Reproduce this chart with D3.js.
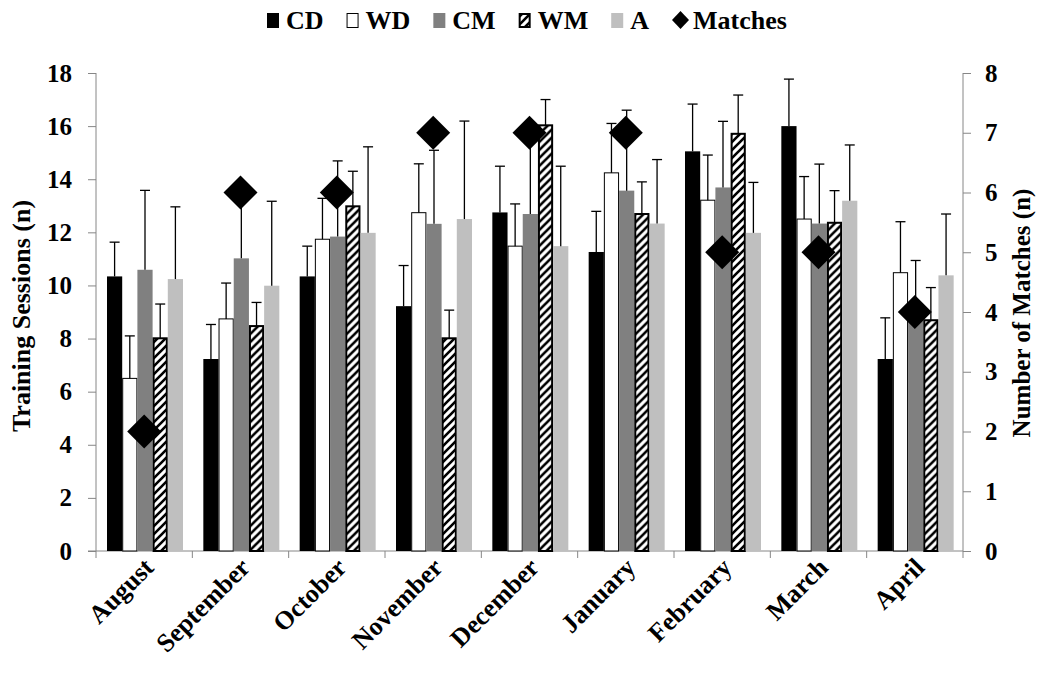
<!DOCTYPE html>
<html><head><meta charset="utf-8">
<script src="https://cdn.jsdelivr.net/npm/d3@7"></script>
<style>
body{margin:0;background:#fff;}
</style></head>
<body><svg id="c" width="1039" height="675"></svg>
<script>
const months = ["August","September","October","November","December","January","February","March","April"];
const seriesNames = ["CD","WD","CM","WM","A"];
const CD   = [10.34, 7.23, 10.34, 9.22, 12.75, 11.26, 15.05, 16.0, 7.23];
const CDerr= [11.63, 8.53, 11.48, 10.75, 14.49, 12.79, 16.83, 17.77, 8.78];
const WD   = [6.5, 8.74, 11.74, 12.74, 11.48, 14.24, 13.21, 12.5, 10.48];
const WDerr= [8.1, 10.09, 13.28, 14.58, 13.07, 16.1, 14.91, 14.1, 12.4];
const CM   = [10.59, 11.02, 11.84, 12.32, 12.69, 13.57, 13.69, 12.33, 8.9];
const CMerr= [13.58, 13.5, 14.69, 15.09, 15.5, 16.6, 16.18, 14.57, 10.94];
const WM   = [8.01, 8.47, 12.98, 8.01, 16.03, 12.69, 15.71, 12.36, 8.69];
const WMerr= [9.3, 9.36, 14.3, 9.07, 17.0, 13.9, 17.17, 13.57, 9.92];
const A    = [10.24, 9.99, 11.98, 12.5, 11.48, 12.33, 11.98, 13.19, 10.38];
const Aerr = [12.96, 13.17, 15.22, 16.19, 14.49, 14.74, 13.88, 15.29, 12.69];
const matches = [2, 6, 6, 7, 7, 7, 5, 5, 4];
const leftTicks = [0,2,4,6,8,10,12,14,16,18];
const rightTicks = [0,1,2,3,4,5,6,7,8];

const values = {CD, WD, CM, WM, A};
const errs = {CD:CDerr, WD:WDerr, CM:CMerr, WM:WMerr, A:Aerr};
const FONT = "Liberation Serif";

const svg = d3.select("#c");
const defs = svg.append("defs");
const pat = defs.append("pattern").attr("id","hatch").attr("patternUnits","userSpaceOnUse")
  .attr("width",8).attr("height",8);
pat.append("rect").attr("width",8).attr("height",8).attr("fill","#fff");
pat.append("path").attr("d","M-2,2 L2,-2 M0,8 L8,0 M6,10 L10,6").attr("stroke","#000").attr("stroke-width",2.6);

const styles = {
  CD:{fill:"#000", stroke:"none", sw:0},
  WD:{fill:"#fff", stroke:"#000", sw:1},
  CM:{fill:"#808080", stroke:"none", sw:0},
  WM:{fill:"url(#hatch)", stroke:"#000", sw:2},
  A:{fill:"#bfbfbf", stroke:"none", sw:0}
};

const x0 = d3.scaleBand().domain(months).range([96, 963]);
const x1 = d3.scaleBand().domain(seriesNames).range([11, 87]);
const yL = d3.scaleLinear().domain([0,18]).range([551, 73]);
const yR = d3.scaleLinear().domain([0,8]).range([551, 73]);

const axisColor = "#868686";
function styleText(sel, size){
  sel.attr("font-family",FONT).attr("font-weight","bold").attr("font-size",size).attr("fill","#000")
     .style("font-family",FONT).style("font-weight","bold");
}

// left axis
const gL = svg.append("g").attr("transform","translate(96,0)")
  .call(d3.axisLeft(yL).tickValues(leftTicks).tickSize(8).tickPadding(16));
gL.attr("font-family",FONT);
gL.select(".domain").attr("stroke",axisColor).attr("d","M0,73V551");
gL.selectAll(".tick line").attr("stroke",axisColor);
styleText(gL.selectAll(".tick text"), 25);

// right axis
const gR = svg.append("g").attr("transform","translate(963,0)")
  .call(d3.axisRight(yR).tickValues(rightTicks).tickSize(8).tickPadding(14));
gR.attr("font-family",FONT);
gR.select(".domain").attr("stroke",axisColor).attr("d","M0,73V551");
gR.selectAll(".tick line").attr("stroke",axisColor);
styleText(gR.selectAll(".tick text"), 25);

// x axis
const gX = svg.append("g").attr("transform","translate(0,551)");
gX.append("line").attr("x1",88).attr("x2",963).attr("y1",0).attr("y2",0).attr("stroke",axisColor);
const bounds = months.map(m => x0(m)).concat([963]);
gX.selectAll("line.tk").data(bounds).join("line").attr("class","tk")
  .attr("x1",d=>d).attr("x2",d=>d).attr("y1",0).attr("y2",7).attr("stroke",axisColor);
styleText(gX.selectAll("text.lab").data(months).join("text").attr("class","lab")
  .attr("text-anchor","end")
  .attr("transform",d=>`translate(${x0(d)+x0.bandwidth()/2+11},${18}) rotate(-45)`)
  .text(d=>d), 26);

// bars
const groups = svg.append("g").selectAll("g").data(months).join("g")
  .attr("transform",d=>`translate(${x0(d)},0)`);
seriesNames.forEach(s=>{
  const st = styles[s];
  groups.append("rect")
    .attr("x",(d,i)=>x1(s)+(st.sw?st.sw/2:0))
    .attr("width",x1.bandwidth()-(st.sw?st.sw:0))
    .attr("y",(d,i)=>yL(values[s][i]))
    .attr("height",(d,i)=>yL(0)-yL(values[s][i]))
    .attr("fill",st.fill).attr("stroke",st.stroke).attr("stroke-width",st.sw);
});
// error bars
seriesNames.forEach(s=>{
  groups.append("line")
    .attr("x1",()=>x1(s)+x1.bandwidth()/2).attr("x2",()=>x1(s)+x1.bandwidth()/2)
    .attr("y1",(d,i)=>yL(values[s][i])).attr("y2",(d,i)=>yL(errs[s][i]))
    .attr("stroke","#000").attr("stroke-width",1.3);
  groups.append("line")
    .attr("x1",()=>x1(s)+x1.bandwidth()/2-5).attr("x2",()=>x1(s)+x1.bandwidth()/2+5)
    .attr("y1",(d,i)=>yL(errs[s][i])).attr("y2",(d,i)=>yL(errs[s][i]))
    .attr("stroke","#000").attr("stroke-width",1.3);
});
// matches diamonds
const dR = 17;
svg.append("g").selectAll("path").data(months).join("path")
  .attr("d",(d,i)=>{const cx=x0(d)+x0.bandwidth()/2, cy=yR(matches[i]);
     return `M${cx},${cy-dR}L${cx+dR},${cy}L${cx},${cy+dR}L${cx-dR},${cy}Z`;})
  .attr("fill","#000");

// axis titles
styleText(svg.append("text").attr("text-anchor","middle")
  .attr("transform","translate(30,316) rotate(-90)").text("Training  Sessions (n)"), 26);
styleText(svg.append("text").attr("text-anchor","middle")
  .attr("transform","translate(1030,313) rotate(-90)").text("Number of Matches (n)"), 25);

// legend
const legendItems = ["CD","WD","CM","WM","A","Matches"];
const lg = svg.append("g");
let lx = 267;
legendItems.forEach(name=>{
  if(name==="Matches"){
    lg.append("path").attr("d",`M${lx+8.5},11L${lx+17},20L${lx+8.5},29L${lx},20Z`).attr("fill","#000");
    lx += 21;
  } else {
    const st = styles[name];
    lg.append("rect").attr("x",lx+(st.sw?st.sw/2:0)).attr("y",13+(st.sw?st.sw/2:0))
      .attr("width",12-(st.sw||0)).attr("height",15-(st.sw||0))
      .attr("fill",st.fill).attr("stroke",name==="WD"?"#000":st.stroke).attr("stroke-width",st.sw||0);
    lx += 19;
  }
  const t = lg.append("text").attr("x",lx).attr("y",29).text(name);
  styleText(t, 26);
  lx += t.node().getComputedTextLength() + 23;
});
</script></body></html>
